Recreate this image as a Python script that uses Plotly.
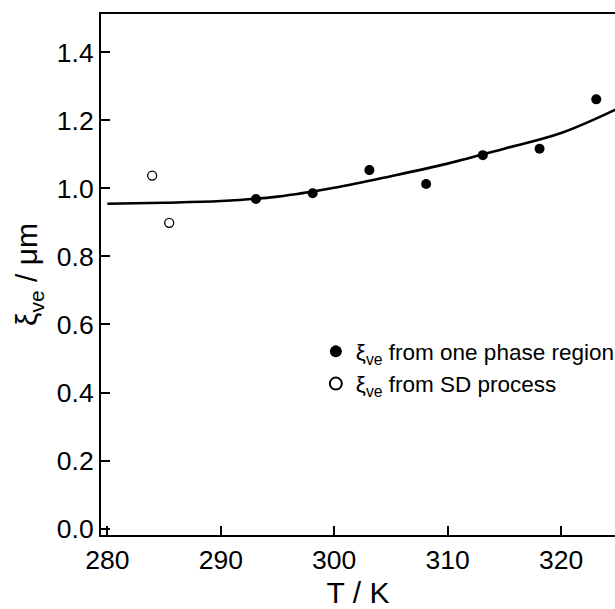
import plotly.graph_objects as go

# Correlation length xi_ve (um) versus temperature T (K)
t_one_phase = [293.1, 298.1, 303.1, 308.1, 313.1, 318.1, 323.1]
xi_one_phase = [0.969, 0.986, 1.054, 1.013, 1.098, 1.117, 1.262]

t_sd = [283.95, 285.45]
xi_sd = [1.038, 0.899]

# Smooth guide curve through the one-phase data
t_curve = [280, 285, 290, 295, 300, 305, 310, 315, 320, 325]
xi_curve = [0.955, 0.958, 0.963, 0.976, 1.002, 1.036, 1.073, 1.117, 1.163, 1.235]

x_ticks = [280, 290, 300, 310, 320]
y_ticks = [0.0, 0.2, 0.4, 0.6, 0.8, 1.0, 1.2, 1.4]

FONT = "Liberation Sans, Arial, sans-serif"
TICK = 26.5
TITLE = 30

fig = go.Figure()

fig.add_trace(go.Scatter(
    x=t_curve, y=xi_curve, mode="lines",
    line=dict(color="black", width=2.6, shape="spline", smoothing=1.0),
    showlegend=False, hoverinfo="skip",
))

fig.add_trace(go.Scatter(
    x=t_one_phase, y=xi_one_phase, mode="markers",
    marker=dict(symbol="circle", size=10, color="black"),
    name="ξ<sub>ve</sub> from one phase region",
))

fig.add_trace(go.Scatter(
    x=t_sd, y=xi_sd, mode="markers",
    marker=dict(symbol="circle-open", size=9, color="black", line=dict(width=1.3)),
    name="ξ<sub>ve</sub> from SD process",
))

fig.update_layout(
    width=615, height=609,
    margin=dict(l=101, r=0, t=14, b=74, autoexpand=False),
    paper_bgcolor="white", plot_bgcolor="white",
    font=dict(family=FONT, color="black", size=TICK),
    legend=dict(
        x=0.418, y=0.393, xanchor="left", yanchor="top",
        bgcolor="rgba(0,0,0,0)", borderwidth=0,
        font=dict(family=FONT, size=22.5, color="black"),
        itemwidth=30, itemsizing="constant", tracegroupgap=0,
    ),
)

fig.update_xaxes(
    range=[279.44, 324.75],
    tickvals=x_ticks,
    ticks="inside", ticklen=9, tickwidth=1.5, tickcolor="black",
    showline=True, linecolor="black", linewidth=2, mirror=True,
    showgrid=False, zeroline=False,
    tickfont=dict(size=TICK),
    title=dict(text="T / K", font=dict(size=TITLE), standoff=14),
)

fig.update_yaxes(
    range=[-0.019, 1.513],
    tickvals=y_ticks, tickformat=".1f",
    ticks="inside", ticklen=9, tickwidth=1.5, tickcolor="black",
    showline=True, linecolor="black", linewidth=2,
    showgrid=False, zeroline=False,
    tickfont=dict(size=TICK),
    title=dict(text="ξ<sub>ve</sub> / μm", font=dict(size=TITLE), standoff=10),
)

fig.write_html("out.html")
